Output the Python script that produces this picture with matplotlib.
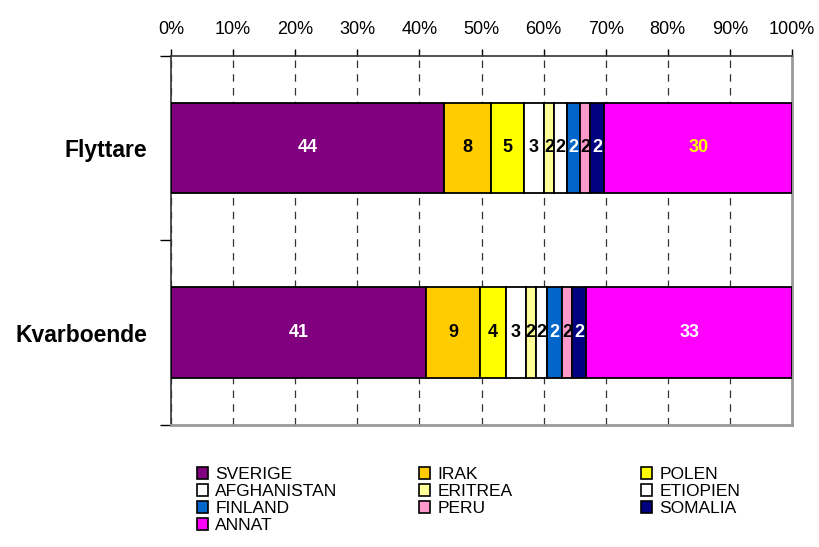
import matplotlib
matplotlib.use("Agg")
import matplotlib.pyplot as plt
from matplotlib.patches import Patch

plt.rcParams['font.family'] = ['Liberation Sans', 'DejaVu Sans']

categories = ["Flyttare", "Kvarboende"]
countries = ["SVERIGE", "IRAK", "POLEN", "AFGHANISTAN", "ERITREA",
             "ETIOPIEN", "FINLAND", "PERU", "SOMALIA", "ANNAT"]
flyttare = [43.9, 7.7, 5.3, 3.1, 1.7, 2.0, 2.1, 1.7, 2.3, 30.2]
kvarboende = [41.0, 8.8, 4.1, 3.2, 1.6, 1.9, 2.3, 1.7, 2.3, 33.1]
flyttare_labels = [44, 8, 5, 3, 2, 2, 2, 2, 2, 30]
kvarboende_labels = [41, 9, 4, 3, 2, 2, 2, 2, 2, 33]
xtick_labels = ["0%", "10%", "20%", "30%", "40%", "50%", "60%", "70%", "80%", "90%", "100%"]

colors = ["#800080", "#FFCC00", "#FFFF00", "#FFFFFF", "#FFFF99",
          "#FFFFFF", "#0066CC", "#FF99CC", "#000080", "#FF00FF"]
label_colors_f = ["white", "black", "black", "black", "black", "black",
                  "white", "black", "white", "#FFFF00"]
label_colors_k = ["white", "black", "black", "black", "black", "black",
                  "white", "black", "white", "white"]

fig = plt.figure(figsize=(8.19, 5.47), dpi=100)
ax = fig.add_axes([171/819, 1-425/547, (792-171)/819, (425-55.5)/547])

series = [flyttare, kvarboende]
labels = [flyttare_labels, kvarboende_labels]
lcols = [label_colors_f, label_colors_k]

handles = []
for j, name in enumerate(countries):
    vals = [s[j] for s in series]
    lefts = [sum(s[:j]) for s in series]
    bars = ax.barh(range(len(categories)), vals, left=lefts, height=0.49,
                   color=colors[j], edgecolor="black", linewidth=1.3, zorder=3)
    handles.append(Patch(facecolor=colors[j], edgecolor="black", linewidth=1.2, label=name))
    for i, b in enumerate(bars):
        ax.text(lefts[i] + vals[i] / 2, i, str(labels[i][j]), ha="center", va="center",
                fontsize=13, fontweight="bold", color=lcols[i][j], zorder=4)

ax.set_xlim(0, 100)
ax.set_ylim(1.5, -0.5)
ax.set_xticks(range(0, 101, 10))
ax.set_xticklabels(xtick_labels, fontsize=13)
ax.xaxis.tick_top()
ax.tick_params(axis="x", direction="out", length=5, width=1, pad=7.5, colors="black")
ax.xaxis.grid(True, linestyle=(0, (6, 5)), color="#333333", linewidth=0.9, zorder=0)

ax.set_yticks([-0.5, 0.5, 1.5])
ax.set_yticklabels(["", "", ""])
ax.set_yticks([0, 1], minor=True)
ax.set_yticklabels(categories, minor=True, fontsize=16.5, fontweight="bold")
ax.tick_params(axis="y", which="major", direction="out", length=8, width=1)
ax.tick_params(axis="y", which="minor", length=0, pad=17)

for side in ["top", "left"]:
    ax.spines[side].set_color("#333333")
    ax.spines[side].set_linewidth(1.2)
for side in ["right", "bottom"]:
    ax.spines[side].set_color("#999999")
    ax.spines[side].set_linewidth(2)

cols = [[0, 3, 6, 9], [1, 4, 7], [2, 5, 8]]
xs = [197, 419, 641]
for c, xpix in zip(cols, xs):
    leg = fig.legend(handles=[handles[k] for k in c], loc="upper left",
                     bbox_to_anchor=(xpix/819, 1-467/547), frameon=False,
                     fontsize=12.5, handlelength=0.65, handleheight=0.65,
                     handletextpad=0.4, labelspacing=0.12, borderpad=0,
                     borderaxespad=0)

fig.savefig("out.png", dpi=100)
